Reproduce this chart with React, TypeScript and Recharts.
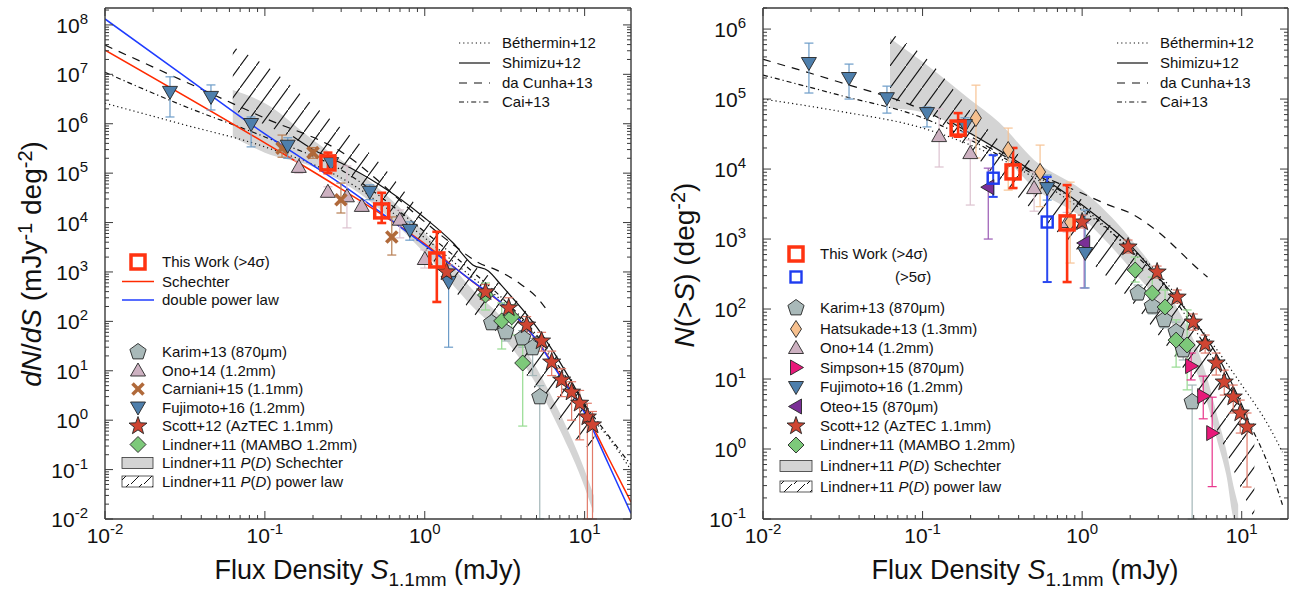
import React from 'react';
import { ComposedChart, Line, Area, Scatter, ErrorBar, XAxis, YAxis } from 'recharts';

const FONT = '"Liberation Sans", Arial, Helvetica, sans-serif';

// ---------- axes ----------
const X_DOMAIN = [0.01, 19.5];
const X_TICKS = [
  0.01, 0.02, 0.03, 0.04, 0.05, 0.06, 0.07, 0.08, 0.09,
  0.1, 0.2, 0.3, 0.4, 0.5, 0.6, 0.7, 0.8, 0.9,
  1, 2, 3, 4, 5, 6, 7, 8, 9, 10,
];
const YL_DOMAIN = [0.01, 2.2e8];
const YL_DECADES = [1e-2, 1e-1, 1e0, 1e1, 1e2, 1e3, 1e4, 1e5, 1e6, 1e7, 1e8];
const YR_DOMAIN = [0.1, 2.0e6];
const YR_DECADES = [1e-1, 1e0, 1e1, 1e2, 1e3, 1e4, 1e5, 1e6];
const MINOR_STEPS = [2, 3, 4, 5, 6, 7, 8, 9];

// ---------- left panel: dN/dS ----------
const bethL_S = [0.01, 0.03, 0.1, 0.3, 1, 2, 3, 5, 7, 10, 14, 19.5];
const bethL_N = [2.6e6, 9.9e5, 3.4e5, 8.0e4, 4.9e3, 757, 271, 48, 9.5, 1.6, 0.46, 0.098];
const shimL_S = [0.15, 0.2, 0.3, 0.5, 1, 1.5, 2, 2.5, 3, 5, 7, 10, 11];
const shimL_N = [5.5e5, 3.0e5, 1.6e5, 6.3e4, 1.24e4, 3.9e3, 1.39e3, 1.05e3, 546, 77, 15, 2.0, 1.1];
const cunhaL_S = [0.01, 0.03, 0.1, 0.3, 1, 1.5, 2.2, 2.8, 4, 5.2, 5.8];
const cunhaL_N = [3.9e7, 7.7e6, 1.3e6, 2.7e5, 1.03e4, 3.6e3, 1.5e3, 1.1e3, 560, 271, 170];
const caiL_S = [0.01, 0.03, 0.1, 0.3, 1, 2, 3, 5, 7, 10, 14, 19.5];
const caiL_N = [1.1e7, 2.4e6, 5.4e5, 1.16e5, 6.5e3, 1e3, 312, 53, 11.4, 2.1, 0.5, 0.124];
const schL_S = [0.01, 0.1, 0.3, 1, 2, 3, 5, 7, 10, 14, 19.5];
const schL_N = [3.1e7, 4.1e5, 4.8e4, 3.7e3, 628, 236, 42, 8.5, 1.53, 0.18, 0.022];
const dplL_S = [0.01, 0.03, 0.1, 0.3, 1, 2, 3, 5, 7, 10, 14, 19.5];
const dplL_N = [1.32e8, 1.02e7, 6.2e5, 6.0e4, 3.5e3, 640, 240, 42, 7.9, 1.4, 0.136, 0.013];

const greyL_S = [0.063, 0.1, 0.2, 0.5, 1, 2, 3, 5, 7, 10, 11.4];
const greyL_lo = [5.4e5, 2.6e5, 1.34e5, 2.1e4, 2.4e3, 196, 54, 5.2, 0.63, 0.044, 0.013];
const greyL_hi = [4.8e6, 2.6e6, 4.7e5, 5.3e4, 6.2e3, 432, 123, 11.4, 1.4, 0.098, 0.03];
const hatchL_S = [0.063, 0.1, 0.2, 0.5, 1, 2, 3, 5, 7, 10, 11.5];
const hatchL_lo = [1.9e6, 9.5e5, 3.0e5, 2.9e4, 2.8e3, 150, 50, 4, 1.0, 0.3, 0.25];
const hatchL_hi = [3.6e7, 1.55e7, 2.4e6, 1.85e5, 1.43e4, 1.39e3, 546, 85, 16.6, 2.6, 1.27];

const fujiL_S = [0.0255, 0.046, 0.082, 0.139, 0.26, 0.453, 0.806, 1.41];
const fujiL_N = [4.4e6, 3.5e6, 9.9e5, 3.6e5, 1.6e5, 4.2e4, 7.1e3, 628];
const fujiL_lo = [1.37e6, 1.9e6, 3.4e5, 2.0e5, 1.3e5, 2.9e4, 4.4e3, 30];
const fujiL_hi = [8.9e6, 6.1e6, 1.37e6, 5.2e5, 2.0e5, 5.8e4, 1.03e4, 1390];
const onoL_S = [0.163, 0.248, 0.326, 0.404, 0.698, 1.0];
const onoL_N = [1.34e5, 4.2e4, 3.4e4, 2.17e4, 1.14e4, 1.83e3];
const onoL_lo = [1.0e5, 3.3e4, 7.8e3, 1.8e4, 4.9e3, 1.2e3];
const onoL_hi = [1.77e5, 5.3e4, 1.4e5, 2.6e4, 1.8e4, 2.8e3];
const carnL_S = [0.128, 0.2, 0.299, 0.622];
const carnL_N = [3.2e5, 2.6e5, 2.9e4, 5.1e3];
const carnL_lo = [2.1e5, 2.0e5, 1.56e4, 2.2e3];
const carnL_hi = [5.9e5, 3.3e5, 6.3e4, 1.3e4];
const workL_S = [0.248, 0.538, 1.19];
const workL_N = [1.61e5, 1.72e4, 1.75e3];
const workL_lo = [1.0e5, 9.8e3, 247];
const workL_hi = [2.6e5, 4.0e4, 6.5e3];
const scottL_S = [1.37, 2.4, 3.35, 4.34, 5.38, 6.22, 7.18, 8.29, 9.31, 10.4, 11.2];
const scottL_N = [1000, 394, 187, 84, 40, 15, 6.5, 3.7, 2.2, 1.16, 0.8];
const scottL_lo = [690, 270, 120, 55, 25, 8, 3, 1.0, 0.4, 0.01, 0.01];
const scottL_hi = [1390, 560, 300, 125, 60, 25, 11, 6, 4, 2.2, 1.5];
const karimL_S = [2.62, 3.21, 4.1, 4.73, 5.24];
const karimL_N = [93, 61, 46, 29, 2.95];
const karimL_lo = [70, 40, 30, 8, 0.01];
const karimL_hi = [120, 80, 65, 45, 5];
const lindL_S = [2.4, 3.03, 3.5, 4.1];
const lindL_N = [342, 102, 123, 14.4];
const lindL_lo = [170, 27.6, 53, 0.76];
const lindL_hi = [600, 236, 215, 33];

// ---------- right panel: N(>S) ----------
const bethR_S = [0.01, 0.03, 0.1, 0.3, 1, 2, 3, 5, 7, 10, 15, 18];
const bethR_N = [1.0e5, 6.7e4, 3.85e4, 1.44e4, 2.6e3, 743, 327, 70, 26, 8.2, 2.0, 0.9];
const shimR_S = [0.15, 0.3, 0.5, 1, 2, 3, 5, 7, 10, 11];
const shimR_N = [4.7e4, 1.87e4, 9.0e3, 3.06e3, 820, 286, 70, 22, 4.3, 2.6];
const cunhaR_S = [0.01, 0.03, 0.1, 0.3, 0.5, 1, 1.5, 2, 3, 4, 5, 6.1];
const cunhaR_N = [3.7e5, 1.75e5, 7.0e4, 1.7e4, 9.0e3, 4.5e3, 3.0e3, 2.35e3, 1.26e3, 697, 425, 286];
const caiR_S = [0.01, 0.03, 0.1, 0.3, 1, 2, 3, 5, 7, 10, 13, 16, 18];
const caiR_N = [2.2e5, 1.14e5, 5.4e4, 1.58e4, 2.9e3, 697, 277, 54, 15.8, 3.6, 1.14, 0.36, 0.16];

const greyR_S = [0.0625, 0.1, 0.2, 0.3, 0.5, 1, 2, 3, 4, 5, 6, 7, 8, 9, 9.5];
const greyR_lo = [7.4e4, 6.5e4, 3.1e4, 1.75e4, 5.4e3, 2.0e3, 385, 126, 42.5, 15.8, 5.0, 1.35, 0.43, 0.1, 0.1];
const greyR_hi = [7.4e5, 3.4e5, 9.7e4, 4.7e4, 1.35e4, 5.0e3, 1.03e3, 306, 97, 36, 11.4, 3.06, 0.97, 0.26, 0.16];
const hatchR_S = [0.0625, 0.1, 0.2, 0.3, 0.5, 1, 2, 3, 5, 7, 10, 12];
const hatchR_lo = [9.7e4, 7.0e4, 1.8e4, 7.0e3, 2.5e3, 600, 135, 42.5, 8.2, 1.87, 0.26, 0.1];
const hatchR_hi = [8.8e5, 4.25e5, 7.0e4, 2.6e4, 1.2e4, 3.6e3, 820, 306, 70, 22, 5.0, 2.2];

const fujiR_S = [0.0194, 0.0346, 0.0598, 0.1066, 0.1845, 0.604, 1.045];
const fujiR_N = [3.27e5, 2.0e5, 1.03e5, 6.3e4, 4.25e4, 5.35e3, 631];
const fujiR_lo = [1.22e5, 1.0e5, 6.3e4, 4.0e4, 3.4e4, 3.6e3, 200];
const fujiR_hi = [6.3e5, 3.16e5, 1.53e5, 7.7e4, 5.4e4, 8.2e3, 2.6e3];
const hatsR_S = [0.216, 0.344, 0.545, 0.841];
const hatsR_N = [5.35e4, 1.87e4, 9.1e3, 1.75e3];
const hatsR_lo = [1.44e4, 5.0e3, 2.9e3, 454];
const hatsR_hi = [1.58e5, 3.85e4, 2.2e4, 6.5e3];
const onoR_S = [0.127, 0.199, 0.5, 0.805];
const onoR_N = [2.96e4, 1.69e4, 5.35e3, 1.75e3];
const onoR_lo = [1.07e4, 3.06e3, 2.5e3, 1.26e3];
const onoR_hi = [7.2e4, 2.6e4, 9.1e3, 2.4e3];
const oteoR_S = [0.258, 1.03];
const oteoR_N = [5.5e3, 877];
const oteoR_lo = [1.0e3, 200];
const oteoR_hi = [1.03e4, 1.7e3];
const simpR_S = [4.82, 5.74, 6.53];
const simpR_N = [15.3, 5.7, 1.69];
const simpR_lo = [9.7, 2.7, 0.29];
const simpR_hi = [23.5, 11, 5.5];
const workR_S = [0.167, 0.369, 0.805];
const workR_N = [3.85e4, 9.1e3, 1.7e3];
const workR_lo = [2.9e4, 5.35e3, 243];
const workR_hi = [6.3e4, 2.0e4, 5.9e3];
const work5R_S = [0.277, 0.604];
const work5R_N = [7.4e3, 1.75e3];
const work5R_lo = [4.0e3, 243];
const work5R_hi = [1.58e4, 7.7e3];
const scottR_S = [1.0, 1.94, 2.95, 3.94, 4.97, 5.9, 6.92, 7.77, 8.85, 9.79, 10.8];
const scottR_N = [1.75e3, 769, 338, 148, 65, 31.6, 16.9, 9.06, 5.53, 3.27, 2.06];
const scottR_lo = [1.44e3, 631, 277, 122, 50, 23.5, 11.4, 5.9, 3.27, 1.69, 0.286];
const scottR_hi = [2.2e3, 968, 411, 187, 85, 42.5, 23.5, 13.4, 8.2, 5.0, 3.27];
const karimR_S = [2.24, 2.75, 3.27, 3.88, 4.3, 4.89];
const karimR_N = [169, 110, 70, 47, 26, 4.7];
const karimR_lo = [135, 85, 54, 34, 18.7, 0.1];
const karimR_hi = [220, 144, 91, 65, 38.5, 8.2];
const lindR_S = [2.15, 2.75, 3.31, 3.88, 4.55];
const lindR_N = [361, 169, 107, 36, 30.6];
const lindR_lo = [243, 107, 70, 14.8, 7.0];
const lindR_hi = [553, 286, 187, 70, 97];

// ---------- helpers ----------
const pts = (S: number[], N: number[], lo: number[], hi: number[]) =>
  S.map((x, i) => ({ x, y: N[i], err: [N[i] - lo[i], hi[i] - N[i]] }));
const curve = (S: number[], N: number[]) => S.map((x, i) => ({ x, y: N[i] }));
const band = (S: number[], lo: number[], hi: number[]) => S.map((x, i) => ({ x, band: [lo[i], hi[i]] }));
const withMinors = (decades: number[], max: number) => {
  const out: number[] = [];
  decades.forEach((d) => {
    out.push(d);
    MINOR_STEPS.forEach((m) => { if (d * m <= max) out.push(d * m); });
  });
  return out;
};

type Kind = 'triDown' | 'triUp' | 'triLeft' | 'triRight' | 'cross' | 'star' | 'pentagon' | 'diamond' | 'diamondTall' | 'square' | 'squareThin';
interface Style { kind: Kind; fill: string; err: string; errW?: number }

const ST: Record<string, Style> = {
  fuji: { kind: 'triDown', fill: '#4e7fac', err: '#6c9cc8' },
  ono: { kind: 'triUp', fill: '#cdb1c1', err: '#dcc2cf' },
  carn: { kind: 'cross', fill: '#b0693a', err: '#b77d52' },
  scott: { kind: 'star', fill: '#cf4532', err: '#e27b6b' },
  karim: { kind: 'pentagon', fill: '#a9b9b9', err: '#a3b6b8' },
  lind: { kind: 'diamond', fill: '#7dc97a', err: '#95db90' },
  hats: { kind: 'diamondTall', fill: '#f6c08e', err: '#f7c394' },
  simp: { kind: 'triRight', fill: '#e8197a', err: '#e8338a' },
  oteo: { kind: 'triLeft', fill: '#7a2f96', err: '#9a5ab4' },
  work: { kind: 'square', fill: '#ff3311', err: '#ff3311', errW: 2.6 },
  work5: { kind: 'squareThin', fill: '#1e3cf0', err: '#2a48f0', errW: 2 },
};

const PENTA = [0, 1, 2, 3, 4].map((k) => {
  const a = (-90 + 72 * k) * Math.PI / 180;
  return [8.5 * Math.cos(a), 8.5 * Math.sin(a)];
});
const STAR = Array.from({ length: 10 }, (_, k) => {
  const a = (-90 + 36 * k) * Math.PI / 180;
  const r = k % 2 === 0 ? 9.5 : 3.9;
  return [r * Math.cos(a), r * Math.sin(a)];
});

function Marker({ kind, cx, cy, fill }: { kind: Kind; cx: number; cy: number; fill: string }) {
  const edge = { stroke: '#262626', strokeWidth: 0.9, strokeLinejoin: 'round' as const };
  const poly = (p: number[][]) => p.map((q) => `${(cx + q[0]).toFixed(1)},${(cy + q[1]).toFixed(1)}`).join(' ');
  switch (kind) {
    case 'triDown': return <polygon points={poly([[-7.5, -5.5], [7.5, -5.5], [0, 7.5]])} fill={fill} {...edge} />;
    case 'triUp': return <polygon points={poly([[-7.5, 5.5], [7.5, 5.5], [0, -7.5]])} fill={fill} {...edge} />;
    case 'triRight': return <polygon points={poly([[-5.5, -7.5], [-5.5, 7.5], [7.5, 0]])} fill={fill} {...edge} />;
    case 'triLeft': return <polygon points={poly([[5.5, -7.5], [5.5, 7.5], [-7.5, 0]])} fill={fill} {...edge} />;
    case 'diamond': return <polygon points={poly([[0, -8], [8, 0], [0, 8], [-8, 0]])} fill={fill} {...edge} />;
    case 'diamondTall': return <polygon points={poly([[0, -8.5], [5.5, 0], [0, 8.5], [-5.5, 0]])} fill={fill} {...edge} />;
    case 'pentagon': return <polygon points={poly(PENTA)} fill={fill} {...edge} />;
    case 'star': return <polygon points={poly(STAR)} fill={fill} {...edge} />;
    case 'cross':
      return (
        <g stroke={fill} strokeWidth={3.6}>
          <line x1={cx - 5.5} y1={cy - 5.5} x2={cx + 5.5} y2={cy + 5.5} />
          <line x1={cx - 5.5} y1={cy + 5.5} x2={cx + 5.5} y2={cy - 5.5} />
        </g>
      );
    case 'square': return <rect x={cx - 7} y={cy - 7} width={14} height={14} fill="none" stroke={fill} strokeWidth={3.5} />;
    default: return <rect x={cx - 5.5} y={cy - 5.5} width={11} height={11} fill="none" stroke={fill} strokeWidth={2.4} />;
  }
}

// ---------- ticks ----------
const AX = '#3a3a3a';
const isMajor = (v: number) => Math.abs(Math.log10(v) - Math.round(Math.log10(v))) < 1e-6;
const expOf = (v: number) => Math.round(Math.log10(v));

const tickR = (side: 'bottom' | 'top' | 'left' | 'right', label: boolean) => (p: any) => {
  const v = p.payload.value;
  const M = isMajor(v);
  const len = M ? 8 : 4;
  const { x, y } = p;
  let line;
  if (side === 'bottom') line = <line x1={x} x2={x} y1={y} y2={y - len} stroke={AX} strokeWidth={1} />;
  else if (side === 'top') line = <line x1={x} x2={x} y1={y} y2={y + len} stroke={AX} strokeWidth={1} />;
  else if (side === 'left') line = <line x1={x} x2={x + len} y1={y} y2={y} stroke={AX} strokeWidth={1} />;
  else line = <line x1={x} x2={x - len} y1={y} y2={y} stroke={AX} strokeWidth={1} />;
  let text = null;
  if (label && M) {
    if (side === 'bottom') {
      text = (
        <text x={x} y={y + 24} textAnchor="middle" fontSize={21} fill="#111" fontFamily={FONT}>
          10<tspan dy={-9} fontSize={15}>{expOf(v)}</tspan>
        </text>
      );
    } else {
      text = (
        <text x={x - 17} y={y + 8} textAnchor="end" fontSize={21} fill="#111" fontFamily={FONT}>
          10<tspan dy={-9} fontSize={15}>{expOf(v)}</tspan>
        </text>
      );
    }
  }
  return <g>{line}{text}</g>;
};

const AXIS_LINE = { stroke: AX, strokeWidth: 1.4 };
// axis band sizes; the chart margins are reduced by these so the plot box stays put
const XB_H = 30;
const XT_H = 4;
const YL_W = 40;
const YR_W = 6;

function axes(yDomain: number[], yTicks: number[]) {
  const common = { type: 'number' as const, scale: 'log' as const, allowDataOverflow: true, interval: 0 as const, tickSize: 0, tickMargin: 0, tickLine: false, axisLine: AXIS_LINE };
  return [
    <XAxis key="xb" dataKey="x" domain={X_DOMAIN} ticks={X_TICKS} height={XB_H} tick={tickR('bottom', true)} {...common} />,
    <XAxis key="xt" xAxisId="t" orientation="top" dataKey="x" domain={X_DOMAIN} ticks={X_TICKS} height={XT_H} tick={tickR('top', false)} {...common} />,
    <YAxis key="yl" dataKey="y" domain={yDomain} ticks={yTicks} width={YL_W} tick={tickR('left', true)} {...common} />,
    <YAxis key="yr" yAxisId="r" orientation="right" dataKey="y" domain={yDomain} ticks={yTicks} width={YR_W} tick={tickR('right', false)} {...common} />,
  ];
}

const modelLine = (key: string, S: number[], N: number[], stroke: string, dash?: string, w = 1.2) => (
  <Line key={key} data={curve(S, N)} dataKey="y" type="monotone" stroke={stroke} strokeWidth={w}
    strokeDasharray={dash} dot={false} activeDot={false} isAnimationActive={false} />
);

const bandArea = (key: string, S: number[], lo: number[], hi: number[], fill: string) => (
  <Area key={key} data={band(S, lo, hi)} dataKey="band" type="monotone" stroke="none" fill={fill}
    fillOpacity={1} dot={false} activeDot={false} isAnimationActive={false} />
);

const dataSet = (key: string, data: any[], st: Style) => (
  <Scatter key={key} data={data} dataKey="y" isAnimationActive={false}
    shape={(p: any) => <Marker kind={st.kind} cx={p.cx} cy={p.cy} fill={st.fill} />}>
    <ErrorBar dataKey="err" direction="y" width={4.5} stroke={st.err} strokeWidth={st.errW ?? 1.2} isAnimationActive={false} />
  </Scatter>
);

const DOT = '1.2 3';
const DASH = '8 7';
const DASHDOT = '5 3 1.2 3';
const GREY = '#d4d4d4';

const hatchDef = (id: string) => (
  <pattern id={id} patternUnits="userSpaceOnUse" width={16} height={22}>
    <path d="M0,22 L16,0" stroke="#111" strokeWidth={1.1} />
  </pattern>
);

// ---------- legend overlay ----------
const LEG_FS = 15;
const LegendText = ({ x, y, children }: { x: number; y: number; children: React.ReactNode }) => (
  <text x={x} y={y + 5} fontSize={LEG_FS} fill="#111" fontFamily={FONT}>{children}</text>
);
const PD = (rest: string) => (
  <>Lindner+11 <tspan fontStyle="italic">P</tspan>(<tspan fontStyle="italic">D</tspan>) {rest}</>
);

function ModelLegend({ x0 }: { x0: number }) {
  const rows: [string, string | undefined][] = [
    ['Béthermin+12', DOT], ['Shimizu+12', undefined], ['da Cunha+13', DASH], ['Cai+13', DASHDOT],
  ];
  const ys = [43, 63, 83, 102];
  return (
    <g>
      {rows.map(([t, d], i) => (
        <g key={t}>
          <line x1={x0} x2={x0 + 31} y1={ys[i]} y2={ys[i]} stroke="#111" strokeWidth={1.2} strokeDasharray={d} />
          <LegendText x={x0 + 43} y={ys[i]}>{t}</LegendText>
        </g>
      ))}
    </g>
  );
}

function Overlay() {
  const leftRows: [Style, string, number][] = [
    [ST.karim, 'Karim+13 (870μm)', 352],
    [ST.ono, 'Ono+14 (1.2mm)', 370.5],
    [ST.carn, 'Carniani+15 (1.1mm)', 389],
    [ST.fuji, 'Fujimoto+16 (1.2mm)', 407.5],
    [ST.scott, 'Scott+12 (AzTEC 1.1mm)', 426],
    [ST.lind, 'Lindner+11 (MAMBO 1.2mm)', 444.5],
  ];
  const rightRows: [Style, string, number][] = [
    [ST.karim, 'Karim+13 (870μm)', 308],
    [ST.hats, 'Hatsukade+13 (1.3mm)', 329],
    [ST.ono, 'Ono+14 (1.2mm)', 348],
    [ST.simp, 'Simpson+15 (870μm)', 367.5],
    [ST.fuji, 'Fujimoto+16 (1.2mm)', 387],
    [ST.oteo, 'Oteo+15 (870μm)', 406.5],
    [ST.scott, 'Scott+12 (AzTEC 1.1mm)', 426],
    [ST.lind, 'Lindner+11 (MAMBO 1.2mm)', 445],
  ];
  return (
    <svg width={1303} height={598} style={{ position: 'absolute', left: 0, top: 0, pointerEvents: 'none' }}>
      <defs>
        <pattern id="hatchLeg" patternUnits="userSpaceOnUse" width={13} height={11}>
          <path d="M1,11 L12,0" stroke="#111" strokeWidth={1} />
        </pattern>
      </defs>
      <ModelLegend x0={459} />
      <ModelLegend x0={1117} />

      {/* left panel legend */}
      <Marker kind="square" cx={138} cy={262} fill={ST.work.fill} />
      <LegendText x={162} y={262}>This Work (&gt;4σ)</LegendText>
      <line x1={122} x2={154} y1={281.5} y2={281.5} stroke="#ff2a00" strokeWidth={1.5} />
      <LegendText x={162} y={281.5}>Schechter</LegendText>
      <line x1={122} x2={154} y1={300} y2={300} stroke="#1f3cff" strokeWidth={1.5} />
      <LegendText x={162} y={300}>double power law</LegendText>
      {leftRows.map(([s, t, y]) => (
        <g key={t}>
          <Marker kind={s.kind} cx={138} cy={y} fill={s.fill} />
          <LegendText x={162} y={y}>{t}</LegendText>
        </g>
      ))}
      <rect x={122} y={457.5} width={31} height={11} fill={GREY} stroke="#333" strokeWidth={0.8} />
      <LegendText x={162} y={463}>{PD('Schechter')}</LegendText>
      <rect x={122} y={476} width={31} height={11} fill="url(#hatchLeg)" stroke="#333" strokeWidth={0.8} />
      <LegendText x={162} y={481.5}>{PD('power law')}</LegendText>

      {/* right panel legend */}
      <Marker kind="square" cx={796} cy={254} fill={ST.work.fill} />
      <LegendText x={820} y={254}>This Work (&gt;4σ)</LegendText>
      <Marker kind="squareThin" cx={796} cy={277} fill={ST.work5.fill} />
      <LegendText x={895} y={277}>(&gt;5σ)</LegendText>
      {rightRows.map(([s, t, y]) => (
        <g key={t}>
          <Marker kind={s.kind} cx={796} cy={y} fill={s.fill} />
          <LegendText x={820} y={y}>{t}</LegendText>
        </g>
      ))}
      <rect x={780} y={460.5} width={32} height={11} fill={GREY} stroke="#333" strokeWidth={0.8} />
      <LegendText x={820} y={466}>{PD('Schechter')}</LegendText>
      <rect x={780} y={481} width={32} height={11} fill="url(#hatchLeg)" stroke="#333" strokeWidth={0.8} />
      <LegendText x={820} y={486.5}>{PD('power law')}</LegendText>

      {/* axis titles */}
      {[368, 1025].map((cx) => (
        <text key={cx} x={cx} y={579} textAnchor="middle" fontSize={27} fill="#111" fontFamily={FONT}>
          Flux Density <tspan fontStyle="italic">S</tspan><tspan dy={7} fontSize={19}>1.1mm</tspan><tspan dy={-7}> (mJy)</tspan>
        </text>
      ))}
      <text transform="translate(41,264) rotate(-90)" textAnchor="middle" fontSize={28} fill="#111" fontFamily={FONT}>
        <tspan fontStyle="italic">dN</tspan>/<tspan fontStyle="italic">dS</tspan> (mJy<tspan dy={-9} fontSize={20}>-1</tspan><tspan dy={9}> deg</tspan><tspan dy={-9} fontSize={20}>-2</tspan><tspan dy={9}>)</tspan>
      </text>
      <text transform="translate(694,265) rotate(-90)" textAnchor="middle" fontSize={28} fill="#111" fontFamily={FONT}>
        <tspan fontStyle="italic">N</tspan>(&gt;<tspan fontStyle="italic">S</tspan>) (deg<tspan dy={-9} fontSize={20}>-2</tspan><tspan dy={9}>)</tspan>
      </text>
    </svg>
  );
}

export default function App() {
  const ylTicks = withMinors(YL_DECADES, YL_DOMAIN[1]);
  const yrTicks = withMinors(YR_DECADES, YR_DOMAIN[1]);
  return (
    <div style={{ position: 'absolute', left: 0, top: 0, width: 1303, height: 598, background: '#fff', fontFamily: FONT }}>
      <div style={{ position: 'absolute', left: 0, top: 0 }}>
        <ComposedChart width={650} height={598}
          margin={{ top: 8 - XT_H, right: 19 - YR_W, bottom: 79 - XB_H, left: 105 - YL_W }}>
          <defs>{hatchDef('hatchL')}</defs>
          {axes(YL_DOMAIN, ylTicks)}
          {bandArea('greyL', greyL_S, greyL_lo, greyL_hi, GREY)}
          {bandArea('hatchL', hatchL_S, hatchL_lo, hatchL_hi, 'url(#hatchL)')}
          {modelLine('bethL', bethL_S, bethL_N, '#111', DOT)}
          {modelLine('shimL', shimL_S, shimL_N, '#111')}
          {modelLine('cunhaL', cunhaL_S, cunhaL_N, '#111', DASH)}
          {modelLine('caiL', caiL_S, caiL_N, '#111', DASHDOT)}
          {modelLine('schL', schL_S, schL_N, '#ff2a00', undefined, 1.5)}
          {modelLine('dplL', dplL_S, dplL_N, '#1f3cff', undefined, 1.5)}
          {dataSet('karimL', pts(karimL_S, karimL_N, karimL_lo, karimL_hi), ST.karim)}
          {dataSet('lindL', pts(lindL_S, lindL_N, lindL_lo, lindL_hi), ST.lind)}
          {dataSet('onoL', pts(onoL_S, onoL_N, onoL_lo, onoL_hi), ST.ono)}
          {dataSet('carnL', pts(carnL_S, carnL_N, carnL_lo, carnL_hi), ST.carn)}
          {dataSet('fujiL', pts(fujiL_S, fujiL_N, fujiL_lo, fujiL_hi), ST.fuji)}
          {dataSet('scottL', pts(scottL_S, scottL_N, scottL_lo, scottL_hi), ST.scott)}
          {dataSet('workL', pts(workL_S, workL_N, workL_lo, workL_hi), ST.work)}
        </ComposedChart>
      </div>
      <div style={{ position: 'absolute', left: 650, top: 0 }}>
        <ComposedChart width={653} height={598}
          margin={{ top: 8 - XT_H, right: 15 - YR_W, bottom: 79 - XB_H, left: 113 - YL_W }}>
          <defs>{hatchDef('hatchR')}</defs>
          {axes(YR_DOMAIN, yrTicks)}
          {bandArea('greyR', greyR_S, greyR_lo, greyR_hi, GREY)}
          {bandArea('hatchR', hatchR_S, hatchR_lo, hatchR_hi, 'url(#hatchR)')}
          {modelLine('bethR', bethR_S, bethR_N, '#111', DOT)}
          {modelLine('shimR', shimR_S, shimR_N, '#111')}
          {modelLine('cunhaR', cunhaR_S, cunhaR_N, '#111', DASH)}
          {modelLine('caiR', caiR_S, caiR_N, '#111', DASHDOT)}
          {dataSet('karimR', pts(karimR_S, karimR_N, karimR_lo, karimR_hi), ST.karim)}
          {dataSet('lindR', pts(lindR_S, lindR_N, lindR_lo, lindR_hi), ST.lind)}
          {dataSet('onoR', pts(onoR_S, onoR_N, onoR_lo, onoR_hi), ST.ono)}
          {dataSet('hatsR', pts(hatsR_S, hatsR_N, hatsR_lo, hatsR_hi), ST.hats)}
          {dataSet('oteoR', pts(oteoR_S, oteoR_N, oteoR_lo, oteoR_hi), ST.oteo)}
          {dataSet('fujiR', pts(fujiR_S, fujiR_N, fujiR_lo, fujiR_hi), ST.fuji)}
          {dataSet('simpR', pts(simpR_S, simpR_N, simpR_lo, simpR_hi), ST.simp)}
          {dataSet('scottR', pts(scottR_S, scottR_N, scottR_lo, scottR_hi), ST.scott)}
          {dataSet('work5R', pts(work5R_S, work5R_N, work5R_lo, work5R_hi), ST.work5)}
          {dataSet('workR', pts(workR_S, workR_N, workR_lo, workR_hi), ST.work)}
        </ComposedChart>
      </div>
      <Overlay />
    </div>
  );
}
